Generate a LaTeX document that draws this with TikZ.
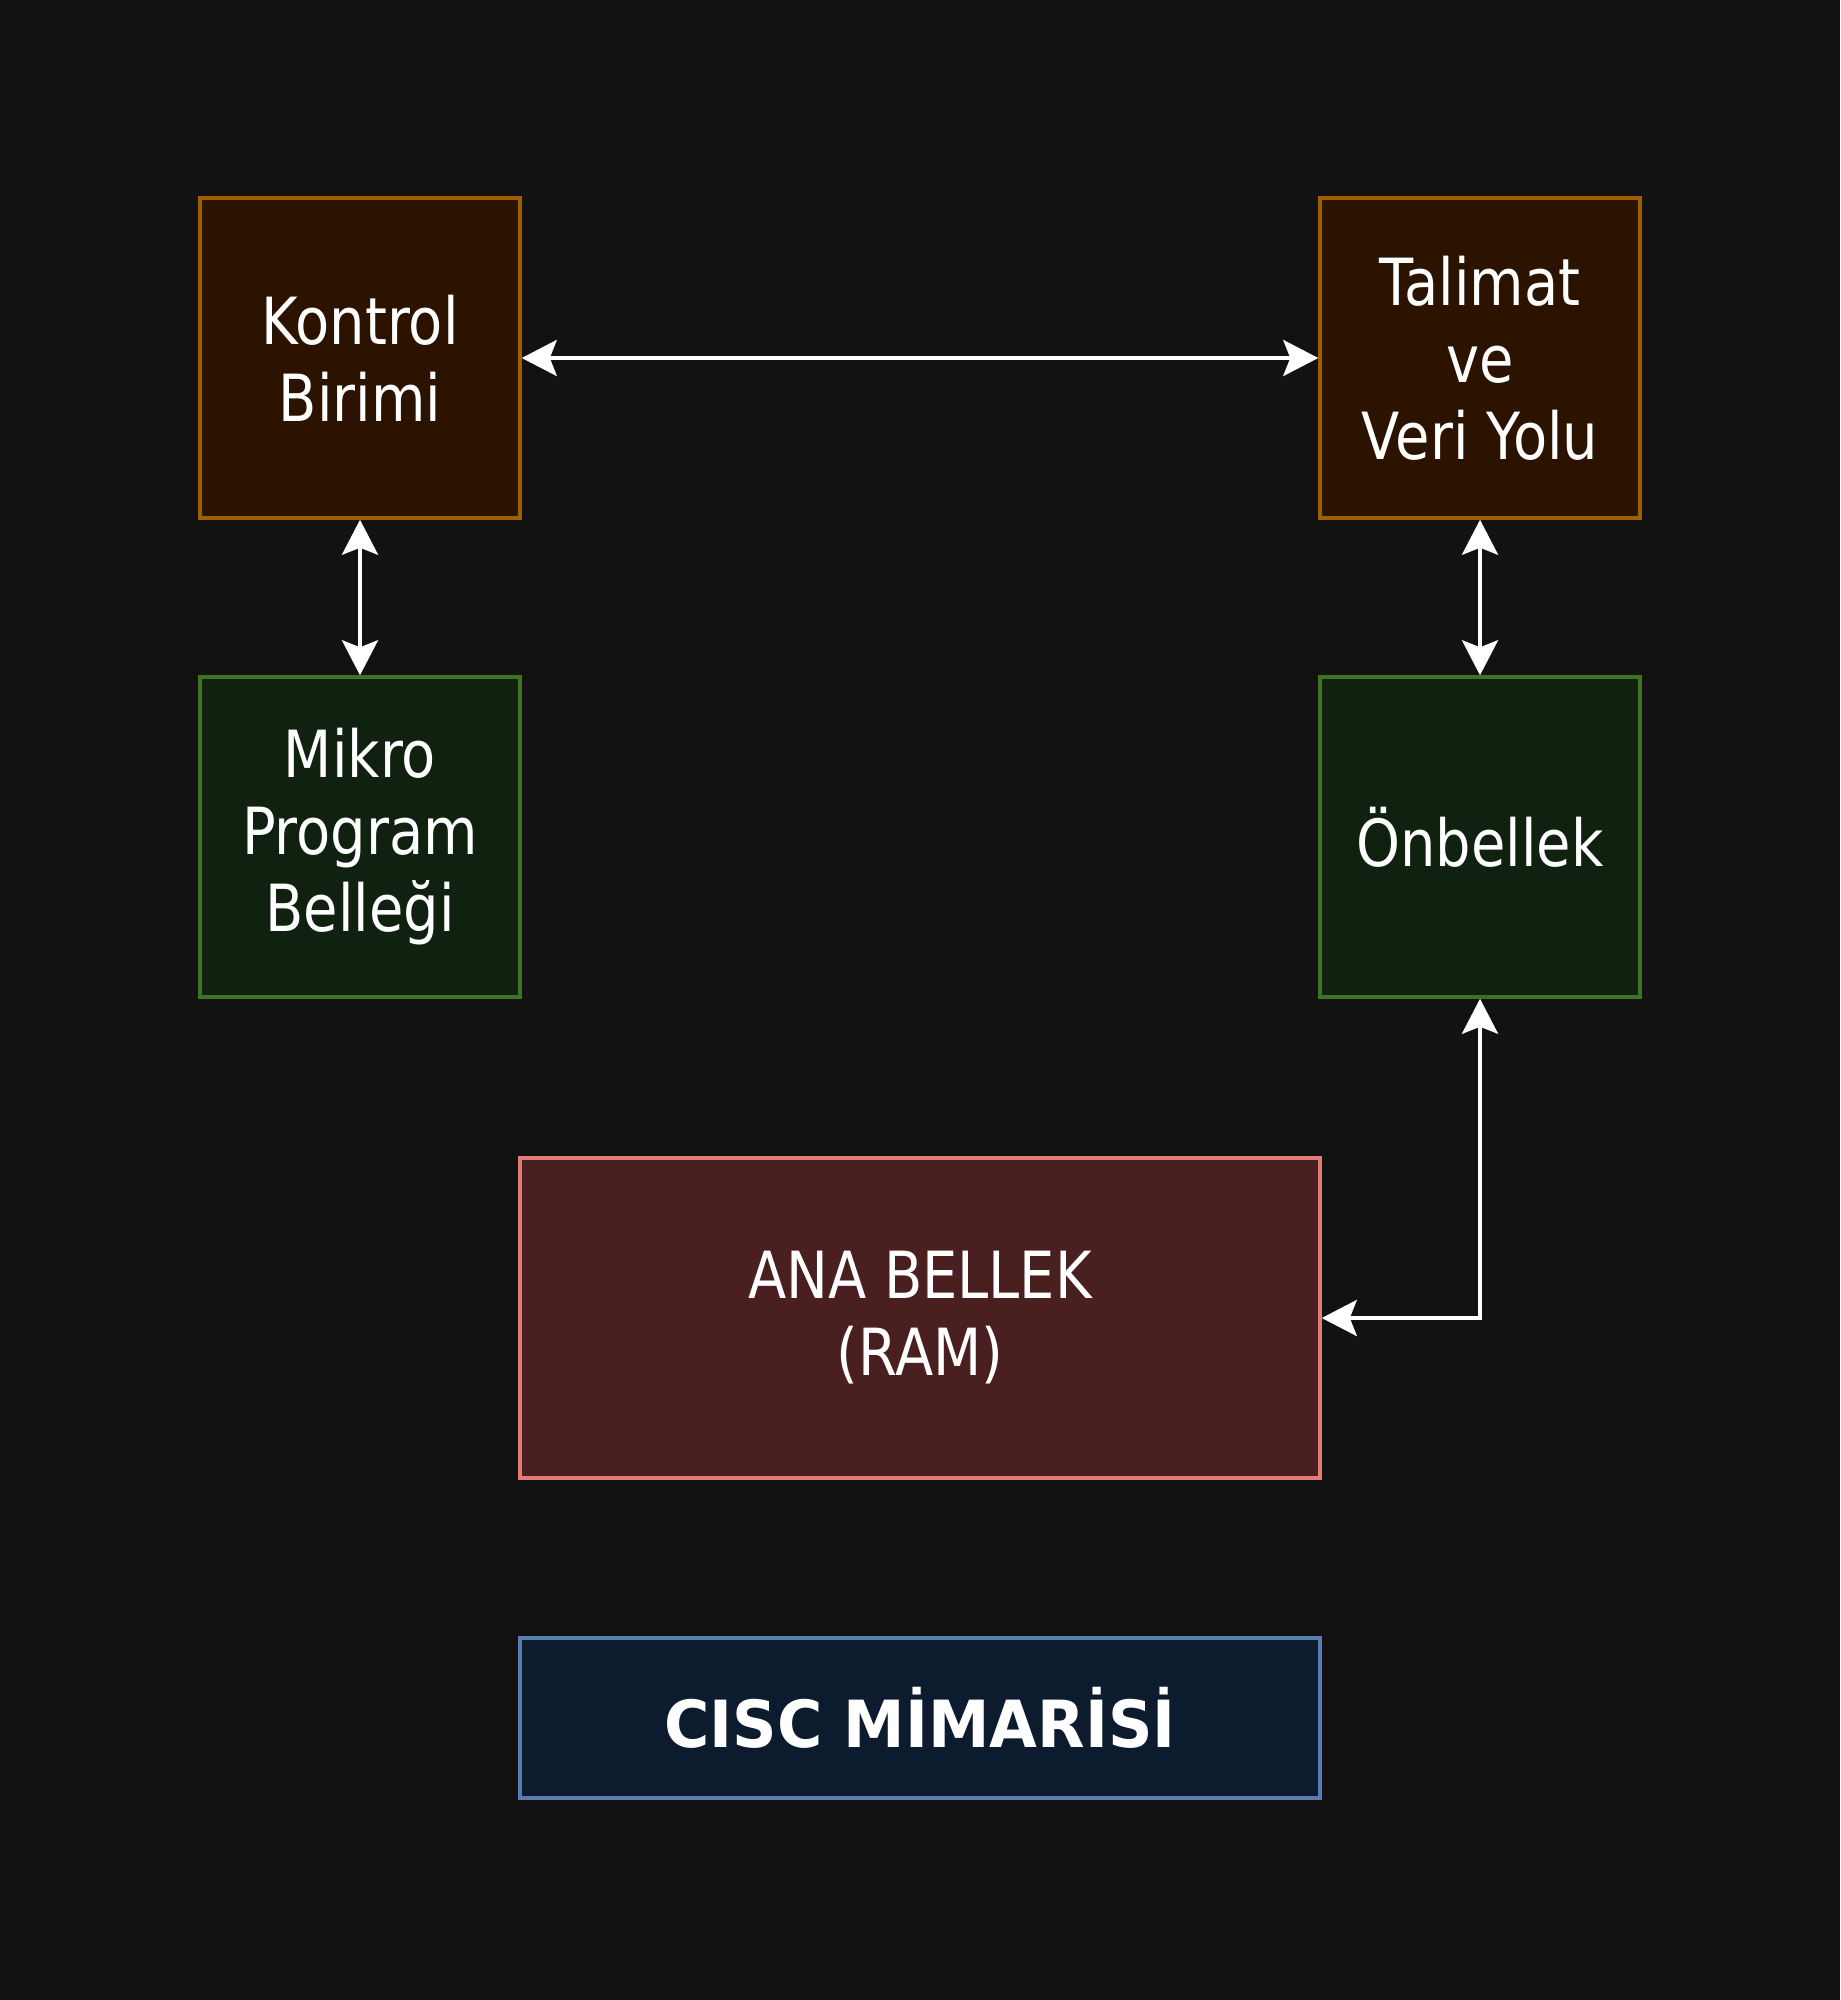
\documentclass[tikz,border=0pt]{standalone}
\usepackage{fontspec}
\setmainfont{DejaVu Sans}[FakeStretch=0.86,BoldFeatures={FakeStretch=0.95}]
\usetikzlibrary{arrows.meta}

\definecolor{bgc}{HTML}{121212}
\definecolor{brdraw}{HTML}{A06000}
\definecolor{brfill}{HTML}{2B1300}
\definecolor{grdraw}{HTML}{3C7424}
\definecolor{grfill}{HTML}{10210F}
\definecolor{rddraw}{HTML}{E17C78}
\definecolor{rdfill}{HTML}{4A1F1F}
\definecolor{bldraw}{HTML}{5A7DB0}
\definecolor{blfill}{HTML}{0D1B2E}

\begin{document}
\begin{tikzpicture}[x=0.5pt,y=-0.5pt,>={Stealth[length=17.5pt,width=18pt,inset=3.5pt]},
  box/.style={draw,line width=1.75pt,minimum width=160pt,minimum height=160pt,align=center,
    text=white,font=\fontsize{32.5}{38.5}\selectfont,inner sep=0pt},
  brbox/.style={box,draw=brdraw,fill=brfill},
  grbox/.style={box,draw=grdraw,fill=grfill},
  link/.style={white,line width=2pt,<->}]
  \fill[bgc] (0,0) rectangle (1840,2000);
  % upper row
  \node[brbox] (kb) at (360,358){Kontrol\\Birimi};
  \node[brbox] (tv) at (1480,358){Talimat\\ve\\Veri Yolu};
  % middle row
  \node[grbox] (mp) at (360,837){Mikro\\Program\\Belleği};
  \node[grbox] (ob) at (1480,837){Önbellek};
  % memory and title
  \node[box,draw=rddraw,fill=rdfill,minimum width=400pt] (ab) at (920,1318){ANA BELLEK\\(RAM)};
  \node[box,draw=bldraw,fill=blfill,minimum width=400pt,minimum height=80pt,font=\fontsize{32.5}{38.5}\selectfont\bfseries] (cm) at (920,1718){CISC MİMARİSİ};
  \draw[link] (kb.east)--(tv.west);
  \draw[link] (kb.south)--(mp.north);
  \draw[link] (tv.south)--(ob.north);
  \draw[link] (ob.south) |- (ab.east);
\end{tikzpicture}
\end{document}
